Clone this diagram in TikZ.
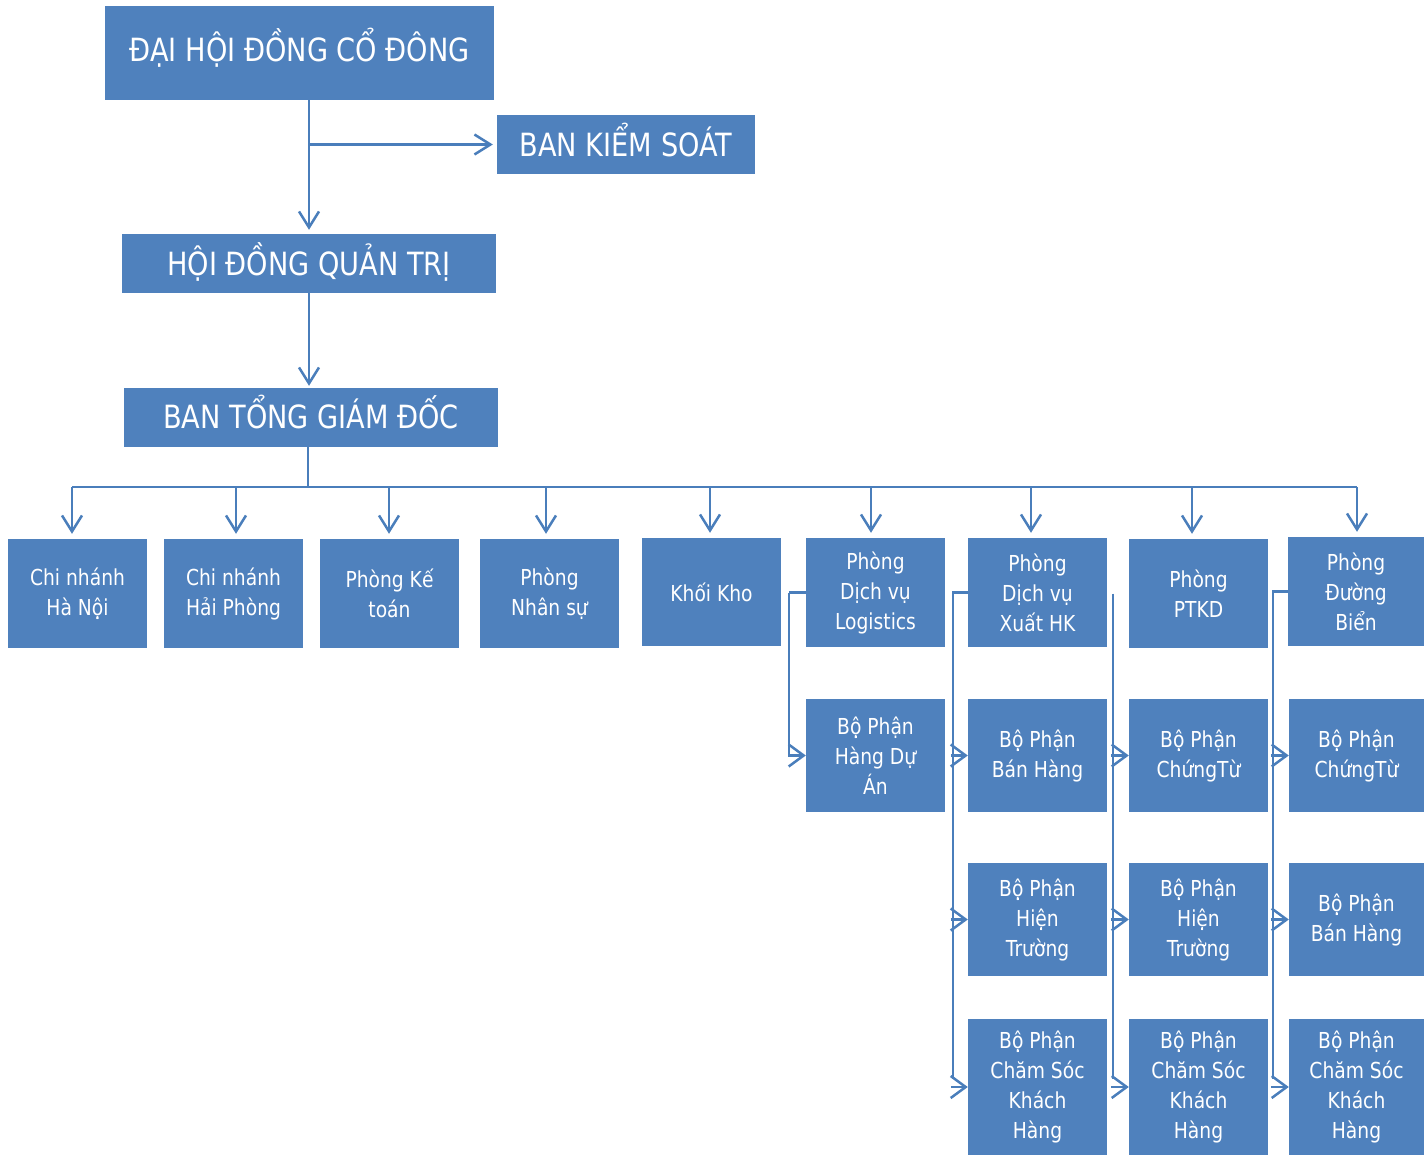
\documentclass[tikz,border=0pt]{standalone}
\usepackage{fontspec}
\setmainfont[FakeStretch=0.85]{DejaVu Sans}
\usetikzlibrary{arrows.meta}
\definecolor{boxblue}{HTML}{4F81BD}
\definecolor{lineblue}{HTML}{4A7EBB}
\newcommand\bx[6]{\node[box, minimum width=#4pt, minimum height=#5pt] (#1) at (#2,#3) {#6};}
\begin{document}
\begin{tikzpicture}[x=1pt,y=-1pt,
  box/.style={fill=boxblue, draw=none, text=white, align=center, inner sep=0pt, font=\fontsize{22}{30}\selectfont},
  title/.style={box, font=\fontsize{32}{36}\selectfont},
  conn/.style={draw=lineblue, line width=2.5pt},
  arr/.style={conn, -{Straight Barb[length=16pt,width=20pt]}},
  harr/.style={conn, -{Straight Barb[length=15pt,width=22pt]}},
]
\useasboundingbox (0,0) rectangle (1424,1155);
% top boxes
\node[title, minimum width=389pt, minimum height=94pt] (dh) at (299.5,53) {\raisebox{17pt}{ĐẠI HỘI ĐỒNG CỔ ĐÔNG}};
\node[title, minimum width=258pt, minimum height=59pt] (bks) at (626,144.5) {\raisebox{10pt}{BAN KIỂM SOÁT}};
\node[title, minimum width=374pt, minimum height=59pt] (hd) at (309,263.5) {\raisebox{9pt}{HỘI ĐỒNG QUẢN TRỊ}};
\node[title, minimum width=374pt, minimum height=59pt] (tgd) at (311,417.5) {\raisebox{11pt}{BAN TỔNG GIÁM ĐỐC}};
% row 1
\bx{cn1}{77.5}{593.5}{139}{109}{Chi nhánh\\Hà Nội}
\bx{cn2}{233.5}{593.5}{139}{109}{Chi nhánh\\Hải Phòng}
\bx{kt}{389.5}{593.5}{139}{109}{Phòng Kế\\toán}
\bx{ns}{549.5}{593.5}{139}{109}{Phòng\\Nhân sự}
\bx{kk}{711.5}{592}{139}{108}{Khối Kho}
\bx{lg}{875.5}{592.5}{139}{109}{Phòng\\Dịch vụ\\Logistics}
\bx{xhk}{1037.5}{592.5}{139}{109}{Phòng\\Dịch vụ\\Xuất HK}
\bx{pt}{1198.5}{593.5}{139}{109}{Phòng\\PTKD}
\bx{db}{1356}{591.5}{136}{109}{Phòng\\Đường\\Biển}
% row 2
\bx{hda}{875.5}{755.5}{139}{113}{Bộ Phận\\Hàng Dự\\Án}
\bx{bhA}{1037.5}{755.5}{139}{113}{Bộ Phận\\Bán Hàng}
\bx{ctA}{1198.5}{755.5}{139}{113}{Bộ Phận\\ChứngTừ}
\bx{ctB}{1356.5}{755.5}{135}{113}{Bộ Phận\\ChứngTừ}
% row 3
\bx{htA}{1037.5}{919.5}{139}{113}{Bộ Phận\\Hiện\\Trường}
\bx{htB}{1198.5}{919.5}{139}{113}{Bộ Phận\\Hiện\\Trường}
\bx{bhB}{1356.5}{919.5}{135}{113}{Bộ Phận\\Bán Hàng}
% row 4
\bx{ckA}{1037.5}{1087}{139}{136}{Bộ Phận\\Chăm Sóc\\Khách\\Hàng}
\bx{ckB}{1198.5}{1087}{139}{136}{Bộ Phận\\Chăm Sóc\\Khách\\Hàng}
\bx{ckC}{1356.5}{1087}{135}{136}{Bộ Phận\\Chăm Sóc\\Khách\\Hàng}
% top connectors
\draw[arr, shorten >=4pt] (dh.south -| hd.north) -- (hd.north);
\draw[arr, shorten >=4pt] (bks.west -| hd.north) -- (bks.west);
\draw[arr, shorten >=2pt] (hd.south) -- (tgd.north -| hd.south);
% bus
\coordinate (bus) at (308,487);
\draw[conn] (tgd.south -| bus) -- (bus);
\draw[conn] ([xshift=-5.5pt]bus -| cn1.north) -- ([xshift=1pt]bus -| db.north);
\foreach \n/\d in {cn1/-5.5,cn2/2.5,kt/-0.5,ns/-3.5,kk/-1.5,lg/-4.5,xhk/-6.5,pt/-6.5,db/1}
  \draw[arr, shorten >=5pt] ([xshift=\d pt]bus -| \n.north) -- ([xshift=\d pt]\n.north);
% Logistics
\coordinate (la) at ([xshift=-17pt]lg.west);
\draw[conn] (lg.west) -- (la);
\draw[harr] (la) |- (hda.west);
% Xuat HK
\coordinate (xa) at ([xshift=-15pt]xhk.west);
\draw[conn] (xhk.west) -- (xa) -- ([yshift=8pt]xa |- ckA.west);
\foreach \n in {bhA,htA,ckA} \draw[harr] ([xshift=-2pt]xa |- \n.west) -- (\n.west);
% PTKD
\coordinate (pa) at ([xshift=-16pt]pt.west);
\draw[conn] (pa) -- ([yshift=8pt]pa |- ckB.west);
\foreach \n in {ctA,htB,ckB} \draw[harr] ([xshift=-2pt]pa |- \n.west) -- (\n.west);
% Duong Bien
\coordinate (da) at ([xshift=-15pt]db.west);
\draw[conn] (db.west) -- (da) -- ([yshift=8pt]da |- ckC.west);
\foreach \n in {ctB,bhB,ckC} \draw[harr] ([xshift=-2pt]da |- \n.west) -- (\n.west);
\end{tikzpicture}
\end{document}
